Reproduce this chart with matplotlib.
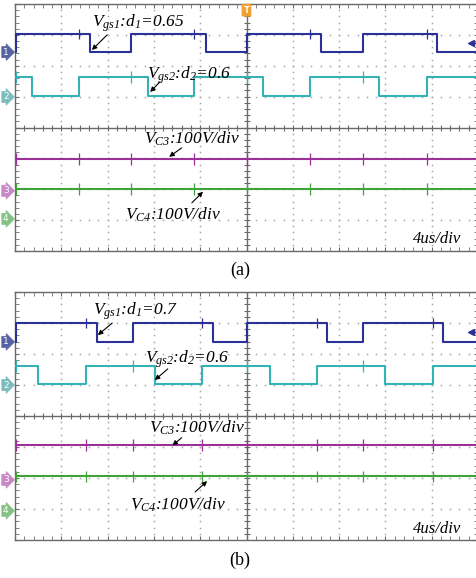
import matplotlib
matplotlib.use("Agg")
import matplotlib.pyplot as plt
import matplotlib.transforms as mtransforms
import numpy as np

plt.rcParams['font.family'] = ['Liberation Serif', 'DejaVu Serif']
plt.rcParams['mathtext.fontset'] = 'custom'
plt.rcParams['mathtext.it'] = 'Liberation Serif:italic'
plt.rcParams['mathtext.rm'] = 'Liberation Serif:italic'

# ---- data (time in divisions of 4us, level in screen divisions) ----
# panel (a): d1 = 0.65, d2 = 0.6
a_vgs1_edges = [0.03, 1.63, 2.51, 4.12, 5.0, 6.61, 7.51, 9.11]   # rise, fall, ...
a_vgs1_levels = [2.44, 3.03]                                      # low, high
a_vgs2_edges = [0.37, 1.38, 2.87, 3.87, 5.36, 6.37, 7.86, 8.90]   # fall, rise, ...
a_vgs2_levels = [1.02, 1.64]
a_vc3_level = -1.02
a_vc4_level = -1.99
a_spikes = [0.03, 1.38, 2.51, 3.87, 5.0, 6.37, 7.51, 8.90]

# panel (b): d1 = 0.7, d2 = 0.6
b_vgs1_edges = [0.03, 1.77, 2.55, 4.28, 5.0, 6.74, 7.52, 9.24]
b_vgs1_levels = [2.39, 3.0]
b_vgs2_edges = [0.50, 1.53, 3.02, 4.04, 5.51, 6.52, 8.0, 9.02]
b_vgs2_levels = [1.03, 1.62]
b_vc3_level = -0.94
b_vc4_level = -1.94
b_spikes = [0.03, 1.53, 2.55, 4.04, 5.0, 6.52, 7.52, 9.02]

markers_a = [2.44, 0.99, -2.05, -2.96]
markers_b = [2.39, 1.0, -2.06, -3.06]

C_BLUE = '#2c3198'
C_CYAN = '#35b2b4'
C_MAG = '#9b3097'
C_GRN = '#3ea33a'
C_FRAME = '#6a6a6a'
C_GRID = '#a8a8a8'
MARK_COLORS = ['#5663a3', '#7dbcbc', '#c888c8', '#84c284']


def step_trace(edges, low, high, start_high):
    xs = [0.0]
    ys = [high if start_high else low]
    state = start_high
    for e in edges:
        xs += [e, e]
        ys += [high if state else low, low if state else high]
        state = not state
    xs.append(10.0)
    ys.append(ys[-1])
    return xs, ys


def scope_axes(ax):
    ax.set_xlim(0, 10)
    ax.set_ylim(-4, 4)
    for s in ax.spines.values():
        s.set_color(C_FRAME)
        s.set_linewidth(1.0)
    ax.set_xticks(np.arange(0, 10.01, 1))
    ax.set_yticks(np.arange(-4, 4.01, 1))
    ax.set_xticks(np.arange(0, 10.01, 0.2), minor=True)
    ax.set_yticks(np.arange(-4, 4.01, 0.2), minor=True)
    ax.tick_params(which='both', direction='in', length=3, color=C_FRAME,
                   top=True, right=True, labelbottom=False, labelleft=False)
    # dotted graticule
    fine_x = np.arange(0, 10.01, 0.2)
    fine_y = np.arange(-4, 4.01, 0.2)
    for gx in range(1, 10):
        if gx != 5:
            ax.plot([gx] * len(fine_y), fine_y, ls='', marker='s', ms=1.1,
                    mec='none', color=C_GRID, zorder=1)
    for gy in range(-3, 4):
        if gy != 0:
            ax.plot(fine_x, [gy] * len(fine_x), ls='', marker='s', ms=1.1,
                    mec='none', color=C_GRID, zorder=1)
    # centre cross with ticks
    ax.axhline(0, color=C_FRAME, lw=1.0, zorder=1)
    ax.axvline(5, color=C_FRAME, lw=1.0, zorder=1)
    ax.plot(fine_x, [0] * len(fine_x), ls='', marker='|', ms=5, mew=0.8,
            color=C_FRAME, zorder=1)
    ax.plot([5] * len(fine_y), fine_y, ls='', marker='_', ms=5, mew=0.8,
            color=C_FRAME, zorder=1)


def draw_panel(ax, v1e, v1l, v2e, v2l, vc3, vc4, spikes, marks, texts):
    scope_axes(ax)
    x, y = step_trace(v1e, v1l[0], v1l[1], False)
    ax.plot(x, y, color=C_BLUE, lw=1.5, zorder=3)
    x, y = step_trace(v2e, v2l[0], v2l[1], True)
    ax.plot(x, y, color=C_CYAN, lw=1.5, zorder=3)
    ax.plot([0, 10], [vc3, vc3], color=C_MAG, lw=1.5, zorder=3)
    ax.plot([0, 10], [vc4, vc4], color=C_GRN, lw=1.5, zorder=3)
    # switching glitches
    ax.vlines(spikes, vc3 - 0.18, vc3 + 0.2, color=C_MAG, lw=0.9, zorder=3)
    ax.vlines(spikes, vc4 - 0.2, vc4 + 0.18, color=C_GRN, lw=0.9, zorder=3)
    ax.vlines(v2e[1::2], v1l[1] - 0.15, v1l[1] + 0.15, color=C_BLUE, lw=0.9, zorder=3)
    ax.vlines(v1e[0::2], v2l[1] - 0.2, v2l[1] + 0.2, color=C_CYAN, lw=0.9, zorder=3)

    # channel ground markers
    tr = mtransforms.blended_transform_factory(ax.transAxes, ax.transData)
    for i, (ym, c) in enumerate(zip(marks, MARK_COLORS)):
        ax.text(-0.02, ym, str(i + 1), transform=tr, ha='center', va='center',
                fontsize=6.5, color='white', family='DejaVu Sans', clip_on=False,
                bbox=dict(boxstyle='rarrow,pad=0.12', fc=c, ec=c, lw=0.5))
    # trigger level arrow
    ax.plot([9.85], [texts['trig']], marker='<', ms=4.5, color=C_BLUE, zorder=4)
    ax.plot([9.85, 10.0], [texts['trig']] * 2, color=C_BLUE, lw=1.0, zorder=4)

    for key in ['vgs1', 'vgs2', 'vc3', 'vc4']:
        s, (tx, ty), tail, tip = texts[key]
        ax.text(tx, ty, s, fontsize=12.5, style='italic', va='baseline',
                ha='left', zorder=5)
        ax.annotate('', xy=tip, xytext=tail, zorder=5,
                    arrowprops=dict(arrowstyle='-|>', color='black', lw=0.8,
                                    mutation_scale=7, shrinkA=0, shrinkB=0))
    ax.text(8.6, texts['div'], '4us/div', fontsize=12, style='italic',
            va='baseline', ha='left')


fig = plt.figure(figsize=(4.76, 5.78), dpi=100)
W, H = 476.0, 578.0
ax_a = fig.add_axes([15 / W, (H - 251) / H, 463 / W, 247 / H])
ax_b = fig.add_axes([15 / W, (H - 540) / H, 463 / W, 248 / H])

texts_a = {
    'vgs1': (r'$V_{\mathit{gs1}}$:$d_{\mathit{1}}$=0.65', (1.66, 3.26), (1.99, 3.0), (1.66, 2.51)),
    'vgs2': (r'$V_{\mathit{gs2}}$:$d_{\mathit{2}}$=0.6', (2.85, 1.6), (3.13, 1.48), (2.92, 1.15)),
    'vc3': (r'$V_{\mathit{C3}}$:100V/div', (2.79, -0.53), (3.6, -0.66), (3.33, -0.95)),
    'vc4': (r'$V_{\mathit{C4}}$:100V/div', (2.38, -2.99), (3.82, -2.44), (4.06, -2.08)),
    'div': -3.73,
    'trig': 2.74,
}
texts_b = {
    'vgs1': (r'$V_{\mathit{gs1}}$:$d_{\mathit{1}}$=0.7', (1.68, 3.26), (2.1, 3.0), (1.79, 2.61)),
    'vgs2': (r'$V_{\mathit{gs2}}$:$d_{\mathit{2}}$=0.6', (2.81, 1.71), (3.3, 1.52), (3.02, 1.16)),
    'vc3': (r'$V_{\mathit{C3}}$:100V/div', (2.9, -0.52), (3.6, -0.7), (3.4, -0.95)),
    'vc4': (r'$V_{\mathit{C4}}$:100V/div', (2.48, -3.03), (3.89, -2.45), (4.15, -2.1)),
    'div': -3.77,
    'trig': 2.71,
}

draw_panel(ax_a, a_vgs1_edges, a_vgs1_levels, a_vgs2_edges, a_vgs2_levels,
           a_vc3_level, a_vc4_level, a_spikes, markers_a, texts_a)
draw_panel(ax_b, b_vgs1_edges, b_vgs1_levels, b_vgs2_edges, b_vgs2_levels,
           b_vc3_level, b_vc4_level, b_spikes, markers_b, texts_b)

# trigger position marker on panel (a)
ax_a.text(5.0, 3.8, 'T', ha='center', va='center', fontsize=6, color='white',
          family='DejaVu Sans', weight='bold', zorder=6,
          bbox=dict(boxstyle='round,pad=0.15', fc='#f0a030', ec='#f0a030'))

fig.text(240 / W, 1 - 270 / H, '(a)', ha='center', va='center', fontsize=13)
fig.text(240 / W, 1 - 560 / H, '(b)', ha='center', va='center', fontsize=13)

fig.savefig('out.png', dpi=100, facecolor='white')
